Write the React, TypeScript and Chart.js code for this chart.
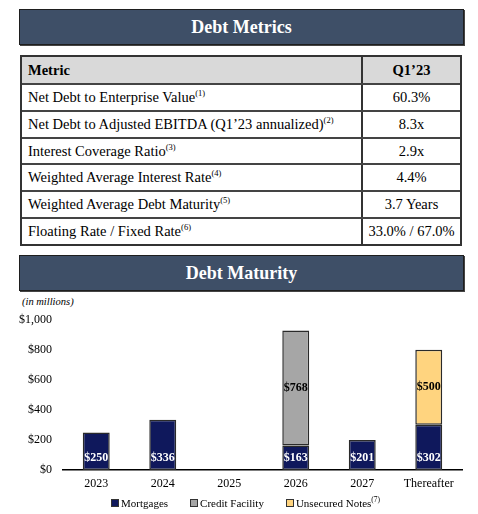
import React, { useEffect, useRef } from "react";
import { Chart, registerables } from "chart.js";
Chart.register(...registerables);

const years = ["2023", "2024", "2025", "2026", "2027", "Thereafter"];
const mortgages = [250, 336, null, 163, 201, 302];
const creditFacility = [null, null, null, 768, null, null];
const unsecuredNotes = [null, null, null, null, null, 500];
const yMax = 1000;
const yStep = 200;

const metricNames = [
  "Net Debt to Enterprise Value",
  "Net Debt to Adjusted EBITDA (Q1\u201923 annualized)",
  "Interest Coverage Ratio",
  "Weighted Average Interest Rate",
  "Weighted Average Debt Maturity",
  "Floating Rate / Fixed Rate",
];
const metricNotes = ["(1)", "(2)", "(3)", "(4)", "(5)", "(6)"];
const metricValues = ["60.3%", "8.3x", "2.9x", "4.4%", "3.7 Years", "33.0% / 67.0%"];

const seriesNames = ["Mortgages", "Credit Facility", "Unsecured Notes"];
const seriesColors = ["#0F185C", "#A6A6A6", "#FFD47F"];
const legendNotes = ["", "", "(7)"];

const FONT = "'Liberation Serif', 'Times New Roman', serif";

const labelPlugin = {
  id: "segLabels",
  afterDatasetsDraw(chart: any) {
    const ctx = chart.ctx;
    ctx.save();
    ctx.font = "bold 12px 'Liberation Serif'";
    ctx.textAlign = "center";
    ctx.textBaseline = "middle";
    chart.data.datasets.forEach((ds: any, i: number) => {
      const meta = chart.getDatasetMeta(i);
      meta.data.forEach((el: any, j: number) => {
        const v = ds.data[j];
        if (v == null) return;
        const { x, y, base } = el.getProps(["x", "y", "base"], true);
        const ty = i === 0 ? base - 12 : (y + base) / 2;
        ctx.fillStyle = i === 0 ? "#ffffff" : "#000000";
        ctx.fillText("$" + v, x, ty);
      });
    });
    ctx.restore();
  },
};

function BarChart() {
  const ref = useRef<HTMLCanvasElement>(null);
  useEffect(() => {
    const datas = [mortgages, creditFacility, unsecuredNotes];
    const chart = new Chart(ref.current!, {
      type: "bar",
      data: {
        labels: years,
        datasets: datas.map((d, i) => ({
          label: seriesNames[i],
          data: d,
          backgroundColor: seriesColors[i],
          borderColor: "#2a2a2a",
          borderWidth: 1.5,
          borderSkipped: false,
          barPercentage: 0.405,
          categoryPercentage: 1.0,
        })),
      },
      options: {
        animation: false,
        responsive: false,
        maintainAspectRatio: false,
        layout: { padding: { top: 0, right: 16, left: 0, bottom: 0 } },
        plugins: { legend: { display: false }, tooltip: { enabled: false } },
        scales: {
          x: {
            stacked: true,
            grid: { display: false, drawTicks: false },
            border: { display: true, color: "#000", width: 1.5 },
            ticks: { color: "#000", font: { family: FONT, size: 12 }, padding: 7 },
            afterFit: (s: any) => { s.height = 29; },
          },
          y: {
            stacked: true,
            min: 0,
            max: yMax,
            grid: { display: false, drawTicks: false },
            border: { display: false },
            ticks: {
              stepSize: yStep,
              color: "#000",
              padding: 11,
              font: { family: FONT, size: 12 },
              callback: (v: any) => "$" + Number(v).toLocaleString("en-US"),
            },
            afterFit: (s: any) => { s.width = 63; },
          },
        },
      },
      plugins: [labelPlugin],
    });
    return () => chart.destroy();
  }, []);
  return (
    <canvas
      ref={ref}
      width={478}
      height={197}
      style={{ position: "absolute", left: 0, top: 302, width: 478, height: 197 }}
    />
  );
}

const headerBox = (top: number): React.CSSProperties => ({
  position: "absolute",
  left: 19,
  top,
  width: 445,
  height: 36,
  boxSizing: "border-box",
  background: "#3E4F67",
  border: "1.5px solid #1e1e1e",
  boxShadow: "1px 1px 0 #444",
  color: "#fff",
  fontWeight: "bold",
  fontSize: 18,
  display: "flex",
  alignItems: "center",
  justifyContent: "center",
});

const rowHeights = [27, 27, 26, 27, 27, 27];

export default function App() {
  return (
    <div
      style={{
        position: "absolute",
        left: 0,
        top: 0,
        width: 478,
        height: 514,
        background: "#fff",
        fontFamily: FONT,
        color: "#000",
        overflow: "hidden",
      }}
    >
      <div style={headerBox(9)}>Debt Metrics</div>
      <div
        style={{
          position: "absolute",
          left: 20,
          top: 55,
          width: 442,
          boxSizing: "border-box",
          border: "2px solid #333",
          fontSize: 14.5,
        }}
      >
        <div style={{ display: "flex", height: 26, background: "#D9D9D9", fontWeight: "bold" }}>
          <div style={{ width: 339, paddingLeft: 6, display: "flex", alignItems: "center", boxSizing: "border-box" }}>
            Metric
          </div>
          <div
            style={{
              flex: 1,
              borderLeft: "2px solid #333",
              display: "flex",
              alignItems: "center",
              justifyContent: "center",
            }}
          >
            Q1&#8217;23
          </div>
        </div>
        {metricNames.map((n, i) => (
          <div
            key={n}
            style={{ display: "flex", height: rowHeights[i], boxSizing: "border-box", borderTop: "2px solid #444" }}
          >
            <div style={{ width: 339, paddingLeft: 6, display: "flex", alignItems: "center", boxSizing: "border-box", whiteSpace: "nowrap" }}>
              <span>
                {n}
                <sup style={{ fontSize: 8.5, verticalAlign: "6px", lineHeight: 0 }}>{metricNotes[i]}</sup>
              </span>
            </div>
            <div
              style={{
                flex: 1,
                borderLeft: "2px solid #333",
                display: "flex",
                alignItems: "center",
                justifyContent: "center",
                whiteSpace: "nowrap",
              }}
            >
              {metricValues[i]}
            </div>
          </div>
        ))}
      </div>
      <div style={headerBox(255)}>Debt Maturity</div>
      <div style={{ position: "absolute", left: 22, top: 296, fontSize: 10.5, fontStyle: "italic" }}>
        (in millions)
      </div>
      <BarChart />
      <div
        style={{
          position: "absolute",
          left: 111,
          top: 495,
          height: 16,
          display: "flex",
          alignItems: "center",
          fontSize: 11,
          whiteSpace: "nowrap",
        }}
      >
        {seriesNames.map((n, i) => (
          <div key={n} style={{ display: "flex", alignItems: "center", marginRight: 22 }}>
            <span
              style={{
                display: "inline-block",
                width: 6,
                height: 6,
                background: seriesColors[i],
                border: "1px solid #333",
                marginRight: 2,
              }}
            />
            <span>
              {n}
              {legendNotes[i] && (
                <sup style={{ fontSize: 7.5, verticalAlign: "5px", lineHeight: 0 }}>{legendNotes[i]}</sup>
              )}
            </span>
          </div>
        ))}
      </div>
    </div>
  );
}
